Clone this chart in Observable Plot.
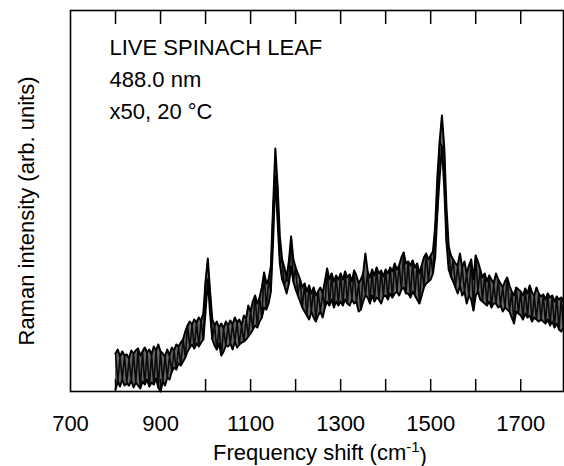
<!DOCTYPE html>
<html><head><meta charset="utf-8">
<script src="https://cdn.jsdelivr.net/npm/d3@7"></script>
<script src="https://cdn.jsdelivr.net/npm/@observablehq/plot@0.6"></script>
<style>body{margin:0;background:#fff} svg{display:block}</style>
</head><body><div id="chart"></div>
<script>
// Raman shift (cm-1) sampled along the trace
const wavenumber = [
 800,805,810,815,820,825,830,835,840,845, 850,855,860,865,870,875,880,885,890,895,
 900,905,910,915,920,925,930,935,940,945, 950,955,960,965,970,975,980,985,990,995,
 1000,1005,1010,1015,1020,1025,1030,1035,1040,1045, 1050,1055,1060,1065,1070,1075,1080,1085,1090,1095,
 1100,1105,1110,1115,1120,1125,1130,1135,1140,1145, 1150,1155,1160,1165,1170,1175,1180,1185,1190,1195,
 1200,1205,1210,1215,1220,1225,1230,1235,1240,1245, 1250,1255,1260,1265,1270,1275,1280,1285,1290,1295,
 1300,1305,1310,1315,1320,1325,1330,1335,1340,1345, 1350,1355,1360,1365,1370,1375,1380,1385,1390,1395,
 1400,1405,1410,1415,1420,1425,1430,1435,1440,1445, 1450,1455,1460,1465,1470,1475,1480,1485,1490,1495,
 1500,1505,1510,1515,1520,1525,1530,1535,1540,1545, 1550,1555,1560,1565,1570,1575,1580,1585,1590,1595,
 1600,1605,1610,1615,1620,1625,1630,1635,1640,1645, 1650,1655,1660,1665,1670,1675,1680,1685,1690,1695,
 1700,1705,1710,1715,1720,1725,1730,1735,1740,1745, 1750,1755,1760,1765,1770,1775,1780,1785,1790,1795
];
// upper envelope of the noisy trace (arb. units)
const upper = [
 38,42,35,40,36,37,33,41,38,41, 43,36,40,44,39,42,37,45,41,47,
 40,38,35,42,36,44,41,47,45,49, 52,60,66,70,67,72,69,74,71,78,
 110,133,100,72,66,70,64,68,63,70, 66,71,67,74,69,72,66,76,73,86,
 80,90,96,88,94,104,119,108,112,125, 185,243,205,155,132,124,114,130,155,132,
 124,118,112,104,108,100,106,98,104,96, 100,104,98,110,123,112,118,110,116,112,
 118,112,120,114,117,110,121,116,108,112, 118,138,120,114,122,116,124,118,121,115,
 122,118,124,120,128,122,126,134,139,128, 130,126,131,124,128,118,126,134,138,132,
 136,140,165,216,250,276,245,185,145,136, 132,128,126,138,124,130,118,126,132,112,
 136,130,122,114,118,110,116,112,108,118, 112,108,104,110,114,106,100,96,104,102,
 100,96,103,98,106,99,96,104,98,95, 97,92,98,94,96,90,95,92,94,91
];
// lower envelope of the noisy trace (arb. units)
const lower = [
 2,10,5,12,6,8,6,11,4,9, 6,3,10,7,12,5,9,7,13,4,
 0,10,6,14,12,20,24,22,28,26, 30,34,40,44,47,43,48,45,49,52,
 80,112,78,52,46,42,48,36,40,46, 45,48,42,50,44,47,49,50,52,55,
 58,62,66,64,70,74,84,82,88,100, 150,215,170,128,112,106,98,108,125,110,
 102,96,90,84,80,76,72,80,74,70, 76,80,74,84,90,86,92,84,90,86,
 90,86,92,88,86,92,88,90,80,82, 90,96,94,88,96,90,94,92,88,95,
 96,92,98,94,98,100,96,102,104,98, 98,94,100,96,92,88,96,104,108,110,
 112,118,135,180,215,245,205,150,122,115, 110,104,98,106,96,100,88,96,92,81,
 96,100,92,90,88,86,90,84,88,88, 84,86,80,84,82,80,74,68,80,78,
 76,72,78,74,76,70,74,72,70,72, 70,68,72,66,70,64,68,62,60,64
];
const tickValues = [800,900,1000,1100,1200,1300,1400,1500,1600,1700];
const tickLabels = [700,900,1100,1300,1500,1700];
const annotation = ["LIVE SPINACH LEAF", "488.0 nm", "x50, 20 \u00B0C"];
const xTitle = "Frequency shift (cm";
const xTitleSup = "-1";
const xTitleEnd = ")";
const yTitle = "Raman intensity (arb. units)";

const rows = wavenumber.map((w, i) => ({w, hi: upper[i], lo: lower[i]}));
const zig = rows.map((d, i) => ({w: d.w, v: i % 2 ? d.lo : d.hi}));

const plot = Plot.plot({
  width: 564, height: 466,
  marginLeft: 70, marginRight: 1, marginTop: 10, marginBottom: 75,
  style: {fontFamily: "'Liberation Sans', Arial, Helvetica, sans-serif", background: "#fff", color: "#000"},
  x: {domain: [700, 1795]},
  y: {domain: [0, 381]},
  marks: [
    Plot.areaY(rows, {x: "w", y1: "lo", y2: "hi", fill: "#666"}),
    Plot.line(zig, {x: "w", y: "v", stroke: "#0a0a0a", strokeWidth: 1.6}),
    Plot.line(rows, {x: "w", y: "hi", stroke: "#000", strokeWidth: 2}),
    Plot.line(rows, {x: "w", y: "lo", stroke: "#000", strokeWidth: 2}),
    Plot.frame({stroke: "#000", strokeWidth: 1.6}),
    Plot.axisX({anchor: "bottom", ticks: tickValues, tickSize: -12, strokeWidth: 1.5, tickFormat: () => "", label: null}),
    Plot.axisX({anchor: "top", ticks: tickValues, tickSize: -13, strokeWidth: 1.5, tickFormat: () => "", label: null}),
    Plot.axisX({anchor: "bottom", ticks: tickLabels, tickSize: 0, tickPadding: 24, fontSize: 22, tickFormat: d => String(d), label: null}),
    Plot.axisY({ticks: [], label: null}),
    Plot.text([annotation.join("\n")], {frameAnchor: "top-left", dx: 39, dy: 22, textAnchor: "start", lineAnchor: "top", lineHeight: 1.45, fontSize: 22}),
    Plot.text([yTitle], {frameAnchor: "left", rotate: -90, textAnchor: "middle", dx: -44, dy: 10, fontSize: 22}),
    Plot.text([xTitle], {frameAnchor: "bottom", textAnchor: "middle", dx: 3, dy: 68, fontSize: 22})
  ]
});

// superscript on the x title
d3.select(plot).selectAll("text").filter(function() { return this.textContent === xTitle; }).each(function() {
  const t = d3.select(this);
  t.text(null);
  t.append("tspan").text(xTitle);
  t.append("tspan").attr("dy", "-0.5em").attr("font-size", 15).text(xTitleSup);
  t.append("tspan").attr("dy", "0.5em").text(xTitleEnd);
});

document.getElementById("chart").appendChild(plot);
</script>
</body></html>
